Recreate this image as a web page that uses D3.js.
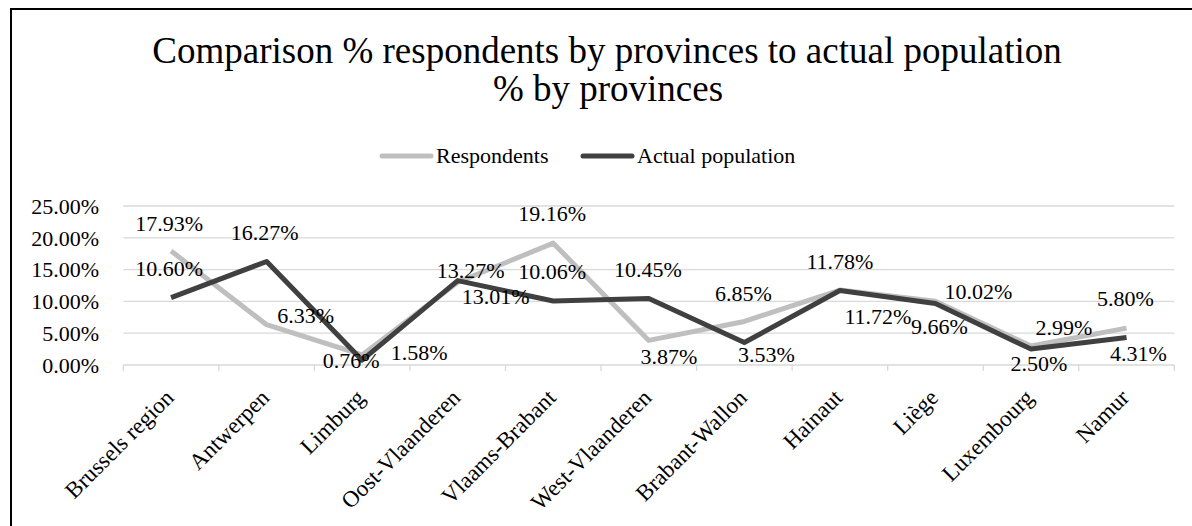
<!DOCTYPE html>
<head>
    <meta charset="utf-8">
    <script src="https://d3js.org/d3.v7.min.js"></script>
    <style>
      body { margin: 0; background: white; }
      text {
        font-family: "Liberation Serif", "Times New Roman", "DejaVu Serif", serif;
        fill: #000;
      }
      .charttitle { font-size: 37px; }
      .ticklabel, .datalabel, .legendlabel { font-size: 22px; }
      .catlabel { font-size: 23px; }
    </style>
</head>
<body>
    <script>
        // data
        var provinces = ["Brussels region","Antwerpen","Limburg","Oost-Vlaanderen","Vlaams-Brabant",
          "West-Vlaanderen","Brabant-Wallon","Hainaut","Liège","Luxembourg","Namur"]
        var respondents = [17.93, 6.33, 1.58, 13.01, 19.16, 3.87, 6.85, 11.78, 10.02, 2.99, 5.80]
        var actualPopulation = [10.60, 16.27, 0.76, 13.27, 10.06, 10.45, 3.53, 11.72, 9.66, 2.50, 4.31]
        var yTicks = [0, 5, 10, 15, 20, 25]
        var seriesNames = ["Respondents", "Actual population"]

        // label nudges (px) relative to each point, label centre
        var respNudge = [[-2,-28],[39,-9],[57,-3],[38,14],[-1,-30],[20,16],[-1,-28],[0,-29],[43,-10],[33,-19],[-1,-30]]
        var actNudge = [[-2,-29],[-2,-29],[-11,0],[13,-10],[-1,-30],[-1,-29],[22,12],[38,26],[4,23],[8,14],[12,16]]

        var svg_w = 1192
        var svg_h = 526
        var svg = d3.select("body").append("svg")
          .attr("width", svg_w)
          .attr("height", svg_h)

        svg.append("rect")
          .attr("x", 11).attr("y", 9)
          .attr("width", svg_w + 20).attr("height", svg_h + 20)
          .attr("fill", "white")
          .attr("stroke", "black")
          .attr("stroke-width", 2)

        var x = d3.scaleBand().domain(provinces).range([123.3, 1174.3])
        var y = d3.scaleLinear().domain([0, 25]).range([365, 206])

        // title
        var title = svg.append("text").classed("charttitle", true)
          .attr("text-anchor", "middle")
        title.append("tspan").attr("x", 607).attr("y", 63)
          .text("Comparison % respondents by provinces to actual population")
        title.append("tspan").attr("x", 608).attr("y", 101)
          .text("% by provinces")

        // legend
        var legendX = [382, 583]
        var colors = ["#bfbfbf", "#404040"]
        seriesNames.forEach(function(name, i){
          svg.append("line")
            .attr("x1", legendX[i]).attr("x2", legendX[i] + 49)
            .attr("y1", 156).attr("y2", 156)
            .attr("stroke", colors[i]).attr("stroke-width", 5)
            .attr("stroke-linecap", "round")
          svg.append("text").classed("legendlabel", true)
            .attr("x", legendX[i] + 54).attr("y", 163)
            .text(name)
        })

        // gridlines
        svg.selectAll(".grid").data(yTicks).enter().append("line")
          .attr("x1", 123.3).attr("x2", 1174.3)
          .attr("y1", function(d){ return y(d) }).attr("y2", function(d){ return y(d) })
          .attr("stroke", "#d9d9d9").attr("stroke-width", 1.3)

        // y tick labels
        svg.selectAll(".ticklabel").data(yTicks).enter().append("text")
          .classed("ticklabel", true)
          .attr("x", 99).attr("y", function(d){ return y(d) })
          .attr("dy", "0.35em")
          .attr("text-anchor", "end")
          .text(function(d){ return d.toFixed(2) + "%" })

        // x axis ticks at band edges
        var edges = provinces.map(function(p){ return x(p) }).concat([x.range()[1]])
        svg.selectAll(".xtick").data(edges).enter().append("line")
          .attr("x1", function(d){ return d }).attr("x2", function(d){ return d })
          .attr("y1", 365).attr("y2", 371)
          .attr("stroke", "#d9d9d9").attr("stroke-width", 1.3)

        // category labels
        svg.selectAll(".catlabel").data(provinces).enter().append("text")
          .classed("catlabel", true)
          .attr("text-anchor", "end")
          .attr("transform", function(d){
            var cx = x(d) + x.bandwidth()/2
            return "translate(" + (cx + 4) + ",399) rotate(-45)"
          })
          .text(function(d){ return d })

        // lines
        var cxOf = function(i){ return x(provinces[i]) + x.bandwidth()/2 }
        var line = d3.line()
          .x(function(d, i){ return cxOf(i) })
          .y(function(d){ return y(d) })

        var series = [respondents, actualPopulation]
        var nudges = [respNudge, actNudge]
        series.forEach(function(vals, s){
          svg.append("path")
            .attr("d", line(vals))
            .attr("fill", "none")
            .attr("stroke", colors[s])
            .attr("stroke-width", 5)
            .attr("stroke-linejoin", "round")
        })
        series.forEach(function(vals, s){
          svg.selectAll(".dl" + s).data(vals).enter().append("text")
            .classed("datalabel", true)
            .attr("text-anchor", "middle")
            .attr("x", function(d, i){ return cxOf(i) + nudges[s][i][0] })
            .attr("y", function(d, i){ return y(d) + nudges[s][i][1] })
            .attr("dy", "0.35em")
            .text(function(d){ return d.toFixed(2) + "%" })
        })
    </script>
</body>
